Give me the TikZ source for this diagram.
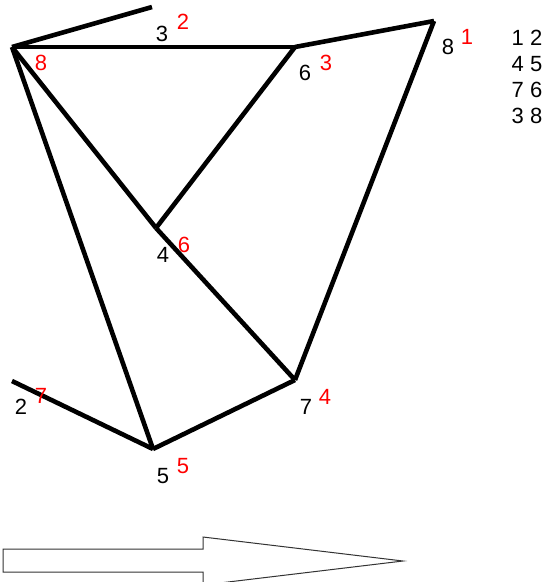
\documentclass[tikz,border=0pt]{standalone}
\usepackage{fontspec}
\setmainfont{Liberation Sans}
\usepackage{xcolor}
\usetikzlibrary{positioning,calc}

\begin{document}
\begin{tikzpicture}[x=1pt, y=-1pt,
        edge/.style={draw=black, line width=4.6pt, line join=round},
        num/.style={font=\fontsize{22}{26}\selectfont, text=black, inner sep=0pt},
        rednum/.style={num, text=red},
        blockarrow/.style={draw=black!80, line width=1pt, fill=white},
      ]
      \useasboundingbox (0,0) rectangle (547,582);
      % vertices
      \coordinate (vA) at (12,47);
      \coordinate (vT) at (152,7);
      \coordinate (v6) at (295,47);
      \coordinate (v8) at (434,21);
      \coordinate (v4) at (156,228);
      \coordinate (v7) at (295,380);
      \coordinate (v5) at (153,449);
      \coordinate (v2) at (12,381);
      % edges
      \draw [edge] (vA) -- (vT);
      \draw [edge] (vA) -- (v6);
      \draw [edge] (v6) -- (v8);
      \draw [edge] (v8) -- (v7);
      \draw [edge] (vA) -- (v4);
      \draw [edge] (v4) -- (v7);
      \draw [edge] (v6) -- (v4);
      \draw [edge] (vA) -- (v5);
      \draw [edge] (v2) -- (v5);
      \draw [edge] (v5) -- (v7);
      % labels
      \node [num] (lab3) at (162,34) {3};
      \node [rednum] (red2) at (183,22) {2};
      \node [num] (lab6) at (305,73) {6};
      \node [rednum] (red3) at (326,63) {3};
      \node [num] (lab8) at (448,47) {8};
      \node [rednum] (red1) at (467,37) {1};
      \node [rednum] (red8) at (41,63) {8};
      \node [num] (lab4) at (163,255) {4};
      \node [rednum] (red6) at (184,245) {6};
      \node [num] (lab7) at (306,407) {7};
      \node [rednum] (red4) at (325,397) {4};
      \node [num] (lab5) at (163,476) {5};
      \node [rednum] (red5) at (183,466) {5};
      \node [num] (lab2) at (21,407) {2};
      \node [rednum] (red7) at (41,396) {7};
      % pairs
      \node [num, align=center] (pairs) at (527,77) {1 2\\4 5\\7 6\\3 8};
      % arrow
      \draw [blockarrow] (3,549) -- (203,549) -- (203,537) -- (403,561)
        -- (203,585) -- (203,572) -- (3,572) -- cycle;
    \end{tikzpicture}
\end{document}
